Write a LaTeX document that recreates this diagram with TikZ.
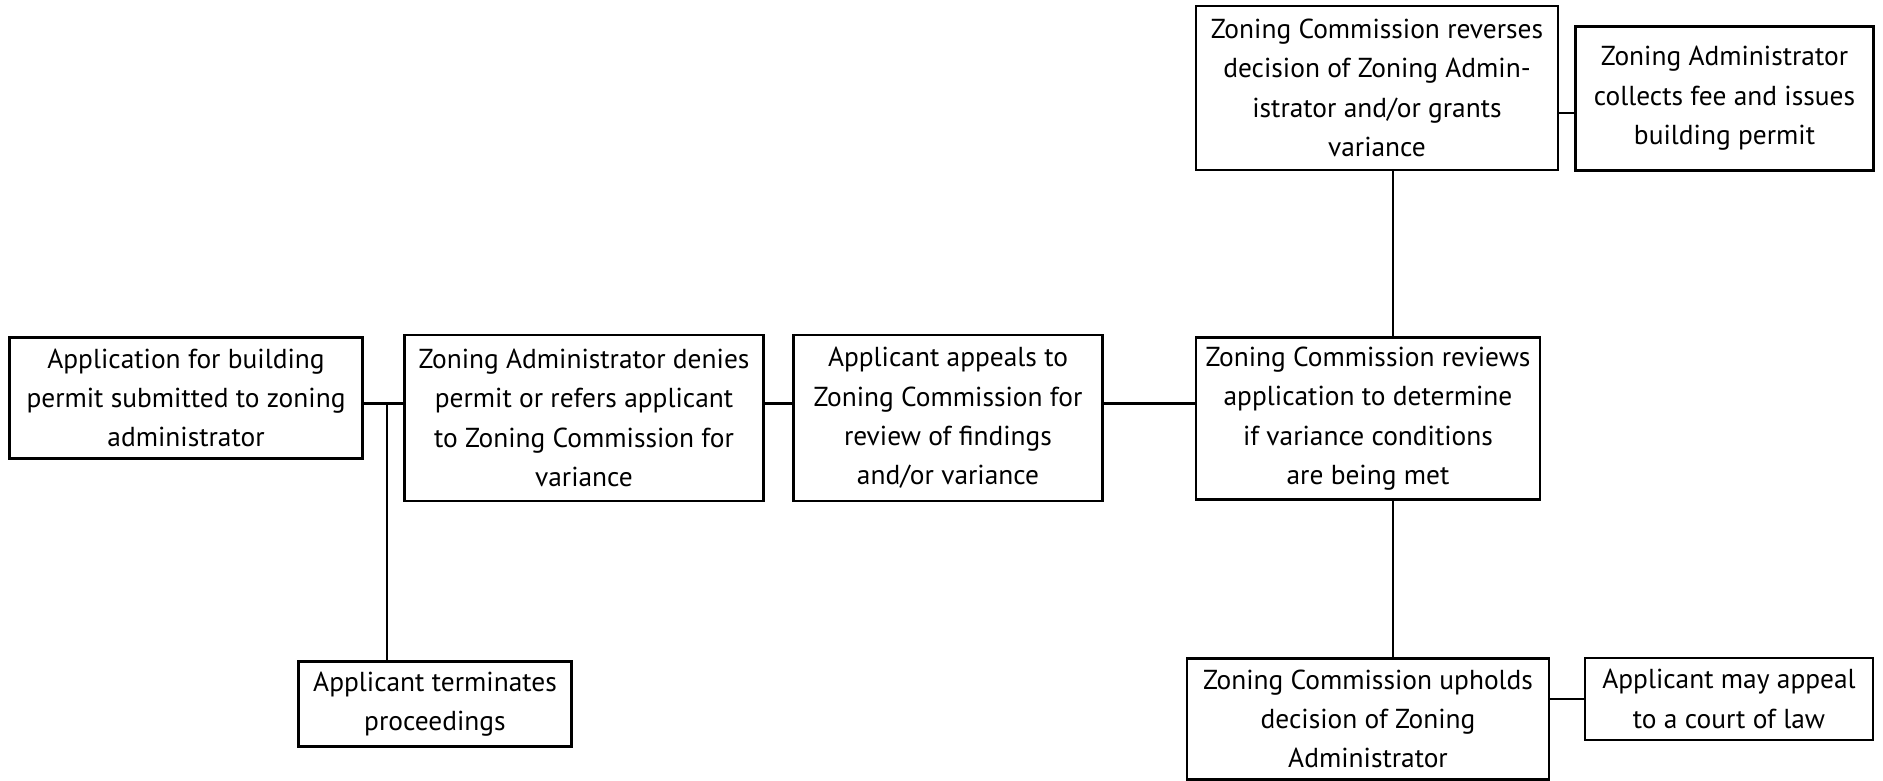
\documentclass[tikz,border=0pt]{standalone}
\usepackage{fontspec}
\setmainfont{PT Sans}
\usepackage{tikz}
\usetikzlibrary{positioning}

\newdimen\px
\px=0.025cm

\tikzset{
  box/.style={draw, line width=1.6pt, align=center, inner sep=2pt,
    font=\fontsize{19.5}{28}\selectfont},
  link/.style={line width=1.6pt}
}

\begin{document}
\begin{tikzpicture}[x=0.025cm, y=-0.025cm]
	\useasboundingbox (0,0) rectangle (1883,781);
	% boxes of the appeal procedure
	\node[box, minimum width=353\px, minimum height=121\px] (apply) at (186,398)
		{Application for building\\permit submitted to zoning\\administrator};
	\node[box, minimum width=359\px, minimum height=166\px] (denies) at (584,418)
		{Zoning Administrator denies\\permit or refers applicant\\to Zoning Commission for\\variance};
	\node[box, minimum width=309\px, minimum height=166\px] (appeals) at (948,418)
		{Applicant appeals to\\Zoning Commission for\\review of findings\\and/or variance};
	\node[box, minimum width=344\px, minimum height=162\px] (reviews) at (1368,418.5)
		{Zoning Commission reviews\\application to determine\\if variance conditions\\are being met};
	\node[box, minimum width=362\px, minimum height=164\px] (reverses) at (1377,88)
		{Zoning Commission reverses\\decision of Zoning Admin-\\istrator and/or grants\\variance};
	\node[box, minimum width=298\px, minimum height=144\px] (issues) at (1724.5,98.5)
		{Zoning Administrator\\collects fee and issues\\building permit};
	\node[box, minimum width=273\px, minimum height=85\px] (ends) at (435,704)
		{Applicant terminates\\proceedings};
	\node[box, minimum width=362\px, minimum height=121\px] (upholds) at (1368,719)
		{Zoning Commission upholds\\decision of Zoning\\Administrator};
	\node[box, minimum width=288\px, minimum height=82\px] (court) at (1729,699)
		{Applicant may appeal\\to a court of law};

	% connectors
	\coordinate (split) at (387,403.5);
	\coordinate (trunk) at (1393,0);
	\coordinate (fee) at (1566,113);
	\draw[link] (apply.east |- split) -- (denies.west |- split);
	\draw[link] (split) -- (split |- ends.north);
	\draw[link] (denies.east |- split) -- (appeals.west |- split);
	\draw[link] (appeals.east |- split) -- (reviews.west |- split);
	\draw[link] (reviews.north -| trunk) -- (reverses.south -| trunk);
	\draw[link] (reviews.south -| trunk) -- (upholds.north -| trunk);
	\draw[link] (reverses.east |- fee) -- (issues.west |- fee);
	\draw[link] (upholds.east |- court.west) -- (court.west);
\end{tikzpicture}
\end{document}
